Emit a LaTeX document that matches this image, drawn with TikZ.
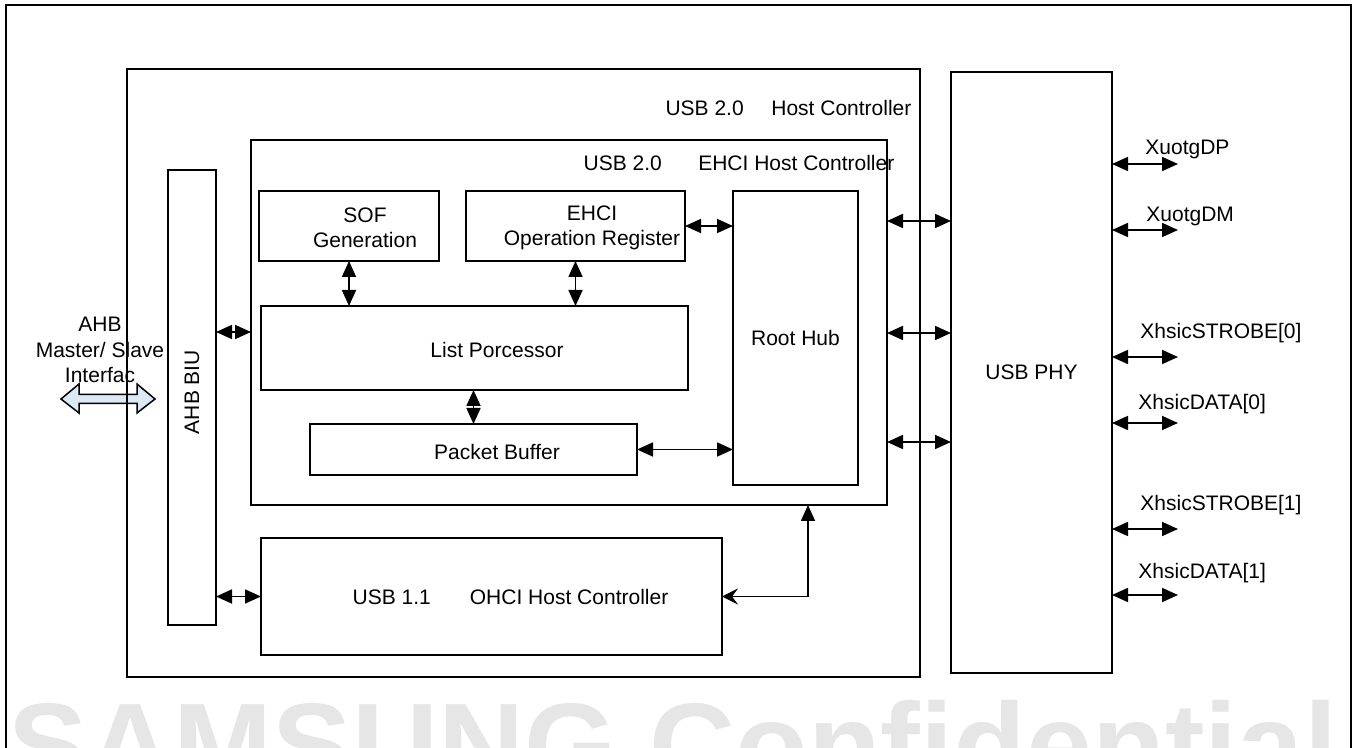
\documentclass[tikz,border=0pt]{standalone}
\usepackage{fontspec}
\setmainfont{Liberation Sans}
\definecolor{ahbblue}{RGB}{221,232,246}
\definecolor{wmgray}{RGB}{230,230,230}
\usetikzlibrary{arrows.meta}
\tikzset{
  blk/.style={draw,line width=0.75pt,inner sep=0pt,outer sep=0pt,align=center},
  lbl/.style={inner sep=0pt,align=center},
  biarrow/.style={line width=0.85pt,{Triangle[length=8pt,width=7pt]}-{Triangle[length=8pt,width=7pt]}},
}
\newcommand{\txtsize}{\fontsize{10.5pt}{12.6pt}\selectfont}

\begin{document}
\begin{tikzpicture}[x=0.5pt,y=-0.5pt,font=\txtsize]
  \useasboundingbox (0,0) rectangle (1355,748);
  \clip (0,0) rectangle (1355,748);

  % watermark and frame
  \node[anchor=base west,inner sep=0pt,text=wmgray,font=\fontsize{59.5pt}{60pt}\selectfont\bfseries]
    (wm) at (8,786) {SAMSUNG Confidential};
  \draw[line width=1pt] (6,5) rectangle (1351,800);

  % AHB interface
  \node[lbl] (ahbtxt) at (100,350) {AHB\\Master/ Slave\\Interfac};
  \draw[line width=0.75pt,fill=ahbblue] (61,399) -- (79,384) -- (79,394.5) -- (137,394.5) -- (137,384)
    -- (155,399) -- (137,413) -- (137,403.5) -- (79,403.5) -- (79,413) -- cycle;

  % blocks
  \node[blk,line width=1pt,minimum width=396.5pt,minimum height=304pt] (hc) at (523.5,373) {};
  \node[lbl] (hctxt) at (788.5,108) {USB 2.0\hspace{13.8pt}Host Controller};
  \node[blk,minimum width=318pt,minimum height=182.5pt] (ehci) at (569,322.5) {};
  \node[lbl] (ehcitxt) at (739,163) {USB 2.0\hspace{18.2pt}EHCI Host Controller};
  \node[blk,minimum width=24pt,minimum height=227.5pt] (biu) at (192,397.5) {};
  \node[lbl,rotate=90] (biutxt) at (192,392) {AHB BIU};
  \node[blk,minimum width=90pt,minimum height=35pt] (sof) at (349,226) {};
  \node[lbl] (softxt) at (365,228) {SOF\\Generation};
  \node[blk,minimum width=109.5pt,minimum height=35pt] (opreg) at (575.5,226) {};
  \node[lbl] (opregtxt) at (592,228) {EHCI\\Operation Register};
  \node[blk,minimum width=62.5pt,minimum height=147pt] (roothub) at (795.5,338) {Root Hub};
  \node[blk,minimum width=213.5pt,minimum height=42pt] (listp) at (474.5,348) {};
  \node[lbl] (listptxt) at (497,350) {List Porcessor};
  \node[blk,minimum width=163.5pt,minimum height=25.5pt] (pbuf) at (473.5,449.5) {};
  \node[lbl] (pbuftxt) at (497,452) {Packet Buffer};
  \node[blk,minimum width=230.5pt,minimum height=58.5pt] (ohci) at (491.5,596.5) {};
  \node[lbl] (ohcitxt) at (510.5,597) {USB 1.1\hspace{19.5pt}OHCI Host Controller};
  \node[blk,line width=1pt,minimum width=80.5pt,minimum height=300.5pt] (phy) at (1031.5,372.5) {USB PHY};

  % connectors
  \draw[biarrow] (sof.south) -- (listp.north -| sof.south);
  \draw[biarrow] (opreg.south) -- (listp.north -| opreg.south);
  \draw[biarrow] (listp.south -| pbuf.north) -- (pbuf.north);
  \draw[biarrow] (pbuf.east) -- (roothub.west |- pbuf.east);
  \draw[biarrow] (opreg.east) -- (roothub.west |- opreg.east);
  \draw[biarrow] (biu.east |- 0,332) -- (ehci.west |- 0,332);
  \draw[biarrow] (biu.east |- ohci.west) -- (ohci.west);
  \coordinate (ehcitap) at (ehci.south -| 808,0);
  \draw[line width=0.85pt,{Stealth[length=8pt,width=8pt,inset=3pt]}-{Triangle[length=8pt,width=7pt]}]
    (ohci.east) -| (ehcitap);
  \foreach \yy in {221,333,442}
    \draw[biarrow] (ehci.east |- 0,\yy) -- (phy.west |- 0,\yy);

  % phy pins
  \foreach \ay/\ty/\tx/\sig [count=\i] in {164/149/1145/XuotgDP, 230/216/1146/XuotgDM,
      357/333/1140/{XhsicSTROBE[0]}, 423/404/1138/{XhsicDATA[0]},
      529/505/1140/{XhsicSTROBE[1]}, 595/573/1138/{XhsicDATA[1]}} {
    \coordinate (pin\i) at (1178,\ay);
    \draw[biarrow] (phy.east |- pin\i) -- (pin\i);
    \node[lbl,anchor=west] (pintxt\i) at (\tx,\ty) {\sig};
  }
\end{tikzpicture}
\end{document}
